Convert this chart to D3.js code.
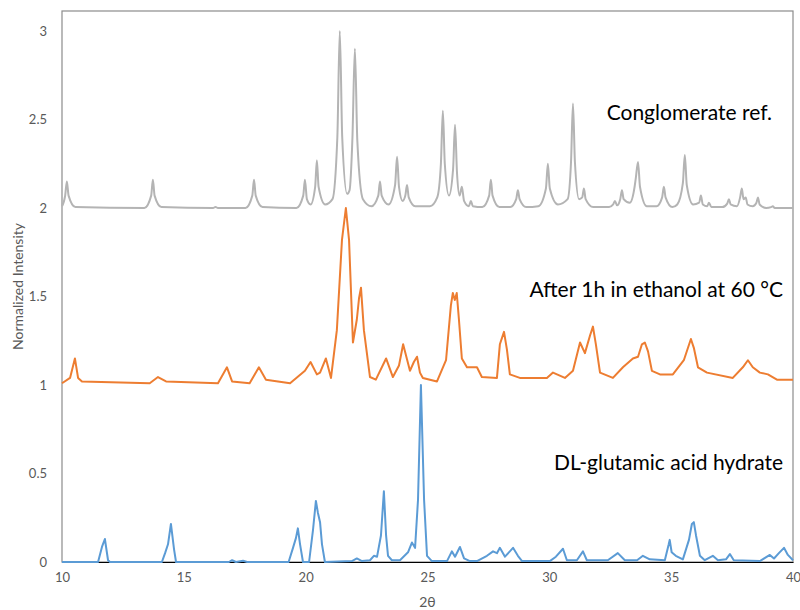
<!DOCTYPE html>
<html>
<head>
<meta charset="utf-8">
<script src="https://cdn.jsdelivr.net/npm/d3@7"></script>
<style>
  body { margin: 0; background: #fff; }
  text { font-family: Lato, "Open Sans", sans-serif; }
</style>
</head>
<body>
<div id="chart"></div>
<script>

// Set dimensions and margins for plot
const width = 800;
const height = 610;
const margin = {left: 62, right: 7, top: 11, bottom: 48};

// tick labels
const xTicks = [10, 15, 20, 25, 30, 35, 40];
const yTicks = [0, 0.5, 1, 1.5, 2, 2.5, 3];

// series labels
const labels = ["Conglomerate ref.", "After 1h in ethanol at 60 °C", "DL-glutamic acid hydrate"];

// [2theta, intensity] (offset traces)
const conglomerate = [
  [10, 2.01], [10.13, 2.07], [10.2, 2.15], [10.27, 2.07], [10.55, 2.005],
  [13.38, 2.0], [13.66, 2.07], [13.73, 2.16], [13.8, 2.07], [14.08, 2.005],
  [16.2, 2.0], [16.3, 2.006], [16.4, 2.0],
  [17.53, 2.0], [17.81, 2.07], [17.88, 2.16], [17.95, 2.07], [18.23, 2.005],
  [19.62, 2.0], [19.9, 2.07], [19.97, 2.16], [20.05, 2.05], [20.2, 2.02],
  [20.39, 2.12], [20.46, 2.27], [20.53, 2.12], [20.8, 2.02], [21.1, 2.05],
  [21.3, 2.4], [21.4, 3.0], [21.5, 2.4], [21.7, 2.08], [21.8, 2.1],
  [21.92, 2.4], [22.02, 2.9], [22.12, 2.38], [22.35, 2.05], [22.7, 2.01],
  [22.98, 2.07], [23.05, 2.15], [23.12, 2.07], [23.4, 2.02], [23.67, 2.13],
  [23.75, 2.29], [23.83, 2.12], [23.98, 2.04], [24.09, 2.07], [24.16, 2.13],
  [24.23, 2.06], [24.5, 2.01], [25.1, 2.01], [25.4, 2.06], [25.55, 2.25],
  [25.63, 2.55], [25.71, 2.25], [25.88, 2.07], [26.05, 2.22], [26.13, 2.47],
  [26.21, 2.2], [26.32, 2.07], [26.41, 2.12], [26.5, 2.04], [26.7, 2.01],
  [26.78, 2.04], [26.86, 2.01], [27.25, 2.005], [27.53, 2.07], [27.6, 2.16],
  [27.67, 2.07], [27.95, 2.005], [28.4, 2.005], [28.64, 2.05], [28.71, 2.1],
  [28.78, 2.05], [29.05, 2.005], [29.55, 2.01], [29.86, 2.11], [29.94, 2.25],
  [30.02, 2.11], [30.35, 2.02], [30.75, 2.05], [30.89, 2.26], [30.97, 2.59],
  [31.05, 2.26], [31.22, 2.05], [31.35, 2.06], [31.42, 2.11], [31.49, 2.05],
  [31.8, 2.005], [32.45, 2.005], [32.62, 2.02], [32.69, 2.04], [32.78, 2.015],
  [32.91, 2.05], [32.98, 2.1], [33.05, 2.05], [33.3, 2.03], [33.5, 2.12],
  [33.55, 2.17], [33.64, 2.26], [33.72, 2.12], [34.0, 2.01], [34.4, 2.01],
  [34.63, 2.06], [34.7, 2.12], [34.77, 2.06], [35.05, 2.005], [35.25, 2.02],
  [35.48, 2.14], [35.56, 2.3], [35.64, 2.13], [35.9, 2.02], [36.15, 2.03],
  [36.22, 2.07], [36.3, 2.02], [36.48, 2.01], [36.55, 2.03], [36.65, 2.005],
  [37.1, 2.005], [37.3, 2.025], [37.37, 2.05], [37.44, 2.02], [37.7, 2.01],
  [37.83, 2.06], [37.9, 2.11], [37.97, 2.05], [38.06, 2.06], [38.13, 2.02],
  [38.35, 2.01], [38.5, 2.03], [38.56, 2.06], [38.63, 2.02], [38.9, 2.0],
  [39.1, 2.005], [39.17, 2.01], [39.25, 2.0], [40, 2.0]
];

const ethanol = [
  [10, 1.01], [10.33, 1.04], [10.53, 1.15], [10.66, 1.04], [10.82, 1.02],
  [13.6, 1.01], [13.94, 1.045], [14.27, 1.02], [16.4, 1.01], [16.77, 1.10],
  [16.98, 1.02], [17.7, 1.01], [18.08, 1.10], [18.37, 1.03], [19.36, 1.01],
  [19.97, 1.08], [20.2, 1.13], [20.46, 1.06], [20.59, 1.07], [20.83, 1.15],
  [21.04, 1.04], [21.28, 1.31], [21.49, 1.82], [21.65, 2.0], [21.78, 1.82],
  [21.94, 1.24], [22.1, 1.37], [22.19, 1.49], [22.27, 1.55], [22.39, 1.31],
  [22.64, 1.045], [22.88, 1.03], [23.3, 1.15], [23.58, 1.045], [23.83, 1.11],
  [24.0, 1.23], [24.28, 1.08], [24.44, 1.13], [24.57, 1.16], [24.69, 1.07],
  [24.81, 1.04], [25.39, 1.02], [25.76, 1.14], [25.96, 1.45], [26.04, 1.52],
  [26.12, 1.48], [26.2, 1.52], [26.29, 1.37], [26.41, 1.15], [26.62, 1.10],
  [26.87, 1.10], [27.03, 1.10], [27.23, 1.045], [27.85, 1.04], [27.97, 1.23],
  [28.14, 1.30], [28.26, 1.20], [28.38, 1.06], [28.79, 1.04], [29.9, 1.04],
  [30.15, 1.07], [30.64, 1.04], [30.97, 1.08], [31.26, 1.24], [31.46, 1.18],
  [31.67, 1.28], [31.79, 1.33], [31.91, 1.23], [32.08, 1.07], [32.61, 1.04],
  [33.02, 1.10], [33.43, 1.15], [33.64, 1.16], [33.8, 1.23], [33.92, 1.24],
  [34.05, 1.19], [34.21, 1.08], [34.54, 1.06], [35.07, 1.06], [35.52, 1.14],
  [35.81, 1.26], [35.93, 1.21], [36.1, 1.10], [36.47, 1.07], [37.53, 1.04],
  [37.94, 1.10], [38.15, 1.14], [38.35, 1.10], [38.64, 1.07], [38.97, 1.06],
  [39.34, 1.03], [40, 1.03]
];

const hydrate = [
  [10, 0], [11.48, 0], [11.64, 0.085], [11.76, 0.13], [11.89, 0.01], [11.97, 0],
  [14.1, 0], [14.23, 0.05], [14.35, 0.1], [14.47, 0.215], [14.6, 0.07], [14.68, 0],
  [16.85, 0], [16.98, 0.01], [17.14, 0], [17.43, 0.007], [17.6, 0],
  [19.3, 0], [19.48, 0.08], [19.6, 0.135], [19.68, 0.19], [19.77, 0.1], [19.89, 0],
  [20.14, 0], [20.3, 0.18], [20.42, 0.345], [20.5, 0.28], [20.59, 0.225],
  [20.67, 0.1], [20.79, 0], [21.9, 0.005], [22.1, 0.02], [22.31, 0.005],
  [22.64, 0.01], [22.8, 0.035], [22.93, 0.03], [23.09, 0.15], [23.21, 0.40],
  [23.3, 0.15], [23.38, 0.035], [23.54, 0.01], [23.87, 0.01], [24.2, 0.055],
  [24.36, 0.11], [24.49, 0.08], [24.61, 0.35], [24.73, 1.0], [24.86, 0.35],
  [24.98, 0.035], [25.18, 0.005], [25.8, 0.005], [26.0, 0.06], [26.13, 0.03],
  [26.33, 0.085], [26.5, 0.02], [26.74, 0.005], [27.03, 0.005], [27.44, 0.035],
  [27.69, 0.06], [27.85, 0.05], [27.97, 0.08], [28.18, 0.03], [28.51, 0.08],
  [28.71, 0.035], [28.88, 0.005], [30.02, 0.005], [30.27, 0.03], [30.56, 0.075],
  [30.72, 0.01], [31.13, 0.01], [31.38, 0.06], [31.54, 0.01], [32.4, 0.01],
  [32.81, 0.05], [33.1, 0.01], [33.6, 0.01], [33.84, 0.035], [34.12, 0.015],
  [34.74, 0.01], [34.9, 0.1], [34.94, 0.125], [35.02, 0.055], [35.19, 0.035],
  [35.48, 0.015], [35.73, 0.125], [35.85, 0.215], [35.93, 0.225], [36.02, 0.15],
  [36.18, 0.035], [36.38, 0.01], [36.71, 0.035], [36.92, 0.01], [37.25, 0.015],
  [37.41, 0.045], [37.57, 0.01], [38.64, 0.005], [39.05, 0.04], [39.22, 0.02],
  [39.42, 0.05], [39.63, 0.08], [39.79, 0.04], [40, 0.01]
];

const svg = d3.select("#chart")
  .append("svg")
  .attr("width", width)
  .attr("height", height);

let xScale = d3.scaleLinear()
  .domain([10, 40])
  .range([margin.left, width - margin.right]);

let yScale = d3.scaleLinear()
  .domain([0, 3])
  .range([height - margin.bottom, 31]);

// plot frame
svg.append("rect")
  .attr("x", margin.left)
  .attr("y", margin.top)
  .attr("width", width - margin.right - margin.left)
  .attr("height", height - margin.bottom - margin.top)
  .attr("fill", "none")
  .attr("stroke", "#8c8c8c")
  .attr("stroke-width", 1.2);

// x axis (black line), labels only
const xAxis = svg.append("g")
  .attr("transform", `translate(0,${height - margin.bottom})`)
  .call(d3.axisBottom(xScale).tickValues(xTicks).tickSize(0).tickPadding(11));
xAxis.select(".domain").attr("stroke", "#000").attr("stroke-width", 1.2);
xAxis.selectAll("text")
  .attr("font-family", "Lato, sans-serif")
  .attr("font-size", "13px")
  .attr("fill", "#595959");

const yAxis = svg.append("g")
  .attr("transform", `translate(${margin.left},0)`)
  .call(d3.axisLeft(yScale).tickValues(yTicks).tickFormat(d => d).tickSize(0).tickPadding(15));
yAxis.select(".domain").remove();
yAxis.selectAll("text")
  .attr("font-family", "Lato, sans-serif")
  .attr("font-size", "13px")
  .attr("fill", "#595959");

// axis titles
svg.append("text")
  .attr("x", (margin.left + width - margin.right) / 2)
  .attr("y", 607)
  .attr("text-anchor", "middle")
  .attr("font-size", "14px")
  .attr("fill", "#595959")
  .text("2θ");

svg.append("text")
  .attr("transform", `translate(23,${(margin.top + height - margin.bottom) / 2}) rotate(-90)`)
  .attr("text-anchor", "middle")
  .attr("font-size", "14px")
  .attr("fill", "#595959")
  .text("Normalized Intensity");

// traces
const line = d3.line()
  .x(d => xScale(d[0]))
  .y(d => yScale(d[1]));

svg.append("path")
  .datum(conglomerate)
  .attr("fill", "none")
  .attr("stroke", "#b4b4b4")
  .attr("stroke-width", 2)
  .attr("d", line.curve(d3.curveMonotoneX));

svg.append("path")
  .datum(ethanol)
  .attr("fill", "none")
  .attr("stroke", "#ED7D31")
  .attr("stroke-width", 2)
  .attr("stroke-linejoin", "round")
  .attr("d", line.curve(d3.curveLinear));

svg.append("path")
  .datum(hydrate)
  .attr("fill", "none")
  .attr("stroke", "#5B9BD5")
  .attr("stroke-width", 2)
  .attr("stroke-linejoin", "round")
  .attr("d", line.curve(d3.curveLinear));

// series labels
const labelPos = [[772, 120], [783, 297], [783, 470]];
svg.selectAll(".series-label")
  .data(labels)
  .enter()
  .append("text")
  .attr("class", "series-label")
  .attr("x", (d, i) => labelPos[i][0])
  .attr("y", (d, i) => labelPos[i][1])
  .attr("text-anchor", "end")
  .attr("font-size", "21px")
  .attr("fill", "#000")
  .text(d => d);

</script>
</body>
</html>
